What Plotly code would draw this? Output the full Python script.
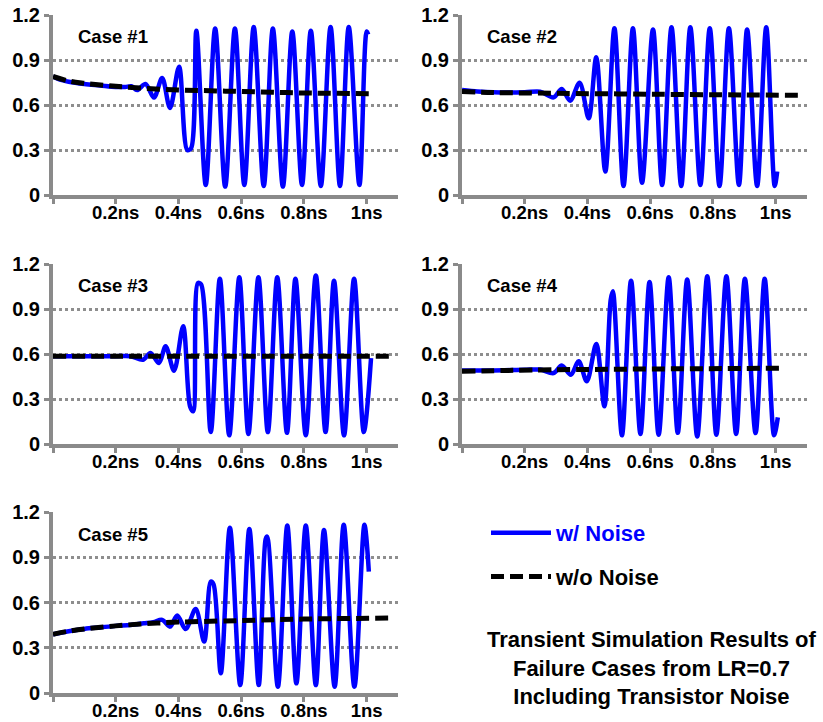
import plotly.graph_objects as go

# ---------------- data (time in ns, voltage in V) ----------------
case_names = ["Case #1", "Case #2", "Case #3", "Case #4", "Case #5"]

c1_noise_t = [0, 0.02, 0.05, 0.1, 0.15, 0.2, 0.23, 0.25, 0.268, 0.295, 0.322, 0.348, 0.373, 0.402, 0.428, 0.44,
              0.457, 0.487, 0.517, 0.549, 0.58, 0.61, 0.64, 0.672, 0.701, 0.733, 0.763, 0.794, 0.822, 0.854,
              0.885, 0.915, 0.943, 0.977, 1.0, 1.005]
c1_noise_v = [0.79, 0.77, 0.755, 0.74, 0.73, 0.72, 0.72, 0.725, 0.70, 0.74, 0.65, 0.78, 0.58, 0.855, 0.30, 0.31,
              1.095, 0.067, 1.11, 0.056, 1.11, 0.067, 1.12, 0.06, 1.11, 0.056, 1.09, 0.067, 1.095, 0.06,
              1.12, 0.06, 1.12, 0.067, 1.09, 1.07]
c1_clean_t = [0, 0.05, 0.1, 0.2, 0.3, 0.4, 0.5, 0.6, 0.7, 0.8, 0.9, 1.016]
c1_clean_v = [0.79, 0.76, 0.745, 0.725, 0.71, 0.70, 0.695, 0.69, 0.685, 0.68, 0.678, 0.675]

c2_noise_t = [0, 0.05, 0.1, 0.2, 0.249, 0.292, 0.318, 0.345, 0.375, 0.404, 0.428, 0.457, 0.486, 0.515, 0.545,
              0.574, 0.609, 0.638, 0.668, 0.699, 0.728, 0.76, 0.79, 0.821, 0.851, 0.883, 0.909, 0.941, 0.97,
              0.997, 1.005]
c2_noise_v = [0.70, 0.69, 0.685, 0.685, 0.689, 0.651, 0.707, 0.629, 0.749, 0.511, 0.918, 0.156, 1.111, 0.06, 1.111,
              0.082, 1.104, 0.067, 1.118, 0.06, 1.118, 0.067, 1.111, 0.06, 1.111, 0.067, 1.104, 0.06, 1.118,
              0.06, 0.156]
c2_clean_t = [0, 0.1, 0.3, 0.6, 0.9, 1.08]
c2_clean_v = [0.69, 0.683, 0.678, 0.672, 0.667, 0.665]

c3_noise_t = [0, 0.1, 0.2, 0.247, 0.287, 0.311, 0.338, 0.359, 0.386, 0.415, 0.437, 0.447, 0.462, 0.472, 0.503,
              0.532, 0.562, 0.594, 0.623, 0.655, 0.685, 0.715, 0.746, 0.773, 0.806, 0.838, 0.869, 0.896, 0.928,
              0.96, 0.991, 1.014]
c3_noise_v = [0.585, 0.585, 0.585, 0.585, 0.562, 0.607, 0.54, 0.651, 0.489, 0.785, 0.25, 0.218, 1.073, 1.065, 0.08,
              1.102, 0.058, 1.111, 0.067, 1.111, 0.08, 1.111, 0.075, 1.102, 0.058, 1.124, 0.08, 1.089, 0.058,
              1.102, 0.08, 0.573]
c3_clean_t = [0, 0.5, 1.09]
c3_clean_v = [0.585, 0.585, 0.585]

c4_noise_t = [0, 0.1, 0.2, 0.249, 0.292, 0.318, 0.347, 0.372, 0.398, 0.428, 0.454, 0.474, 0.481, 0.51, 0.539,
              0.569, 0.598, 0.627, 0.659, 0.688, 0.718, 0.75, 0.782, 0.811, 0.843, 0.874, 0.902, 0.936, 0.965,
              0.995, 1.007]
c4_noise_v = [0.49, 0.49, 0.495, 0.496, 0.473, 0.524, 0.462, 0.551, 0.418, 0.667, 0.251, 0.96, 1.018, 0.058, 1.089,
              0.067, 1.08, 0.062, 1.111, 0.075, 1.096, 0.05, 1.118, 0.062, 1.118, 0.067, 1.102, 0.073, 1.102,
              0.058, 0.178]
c4_clean_t = [0, 0.3, 0.6, 1.016]
c4_clean_v = [0.485, 0.495, 0.50, 0.505]

c5_noise_t = [0, 0.05, 0.1, 0.15, 0.2, 0.247, 0.289, 0.32, 0.348, 0.373, 0.396, 0.423, 0.455, 0.482, 0.503, 0.512,
              0.535, 0.564, 0.597, 0.626, 0.656, 0.678, 0.683, 0.717, 0.747, 0.776, 0.806, 0.838, 0.864, 0.898,
              0.927, 0.961, 0.993, 1.007]
c5_noise_v = [0.39, 0.41, 0.425, 0.435, 0.445, 0.451, 0.462, 0.47, 0.485, 0.44, 0.513, 0.424, 0.557, 0.341, 0.738,
              0.72, 0.131, 1.096, 0.053, 1.088, 0.053, 1.02, 1.037, 0.042, 1.11, 0.064, 1.11, 0.053, 1.08, 0.042,
              1.115, 0.042, 1.115, 0.805]
c5_clean_t = [0, 0.05, 0.1, 0.2, 0.3, 0.4, 0.6, 0.8, 1.08]
c5_clean_v = [0.39, 0.41, 0.425, 0.445, 0.46, 0.47, 0.48, 0.49, 0.497]

noise_t = [c1_noise_t, c2_noise_t, c3_noise_t, c4_noise_t, c5_noise_t]
noise_v = [c1_noise_v, c2_noise_v, c3_noise_v, c4_noise_v, c5_noise_v]
clean_t = [c1_clean_t, c2_clean_t, c3_clean_t, c4_clean_t, c5_clean_t]
clean_v = [c1_clean_v, c2_clean_v, c3_clean_v, c4_clean_v, c5_clean_v]

x_tickvals = [0, 0.2, 0.4, 0.6, 0.8, 1.0]
x_ticktext = ["", "0.2ns", "0.4ns", "0.6ns", "0.8ns", "1ns"]
y_tickvals = [0, 0.3, 0.6, 0.9, 1.2]
y_ticktext = ["0", "0.3", "0.6", "0.9", "1.2"]

legend_noise = "w/ Noise"
legend_clean = "w/o Noise"
caption = "Transient Simulation Results of<br>Failure Cases from LR=0.7<br>Including Transistor Noise"

# ---------------- layout geometry ----------------
W, H = 823, 722
panels_px = [  # (x0, x1, ytop, ybottom) in pixels
    (53, 398, 15, 195),
    (462, 807, 15, 195),
    (53, 398, 264, 444),
    (462, 807, 264, 444),
    (53, 398, 512, 693),
]

FONT = "Arial, 'Liberation Sans', sans-serif"
BLUE = "#0000FF"
GRID = "#8E8E8E"
AXIS = "#8A8A8A"

fig = go.Figure()
layout = dict(
    width=W, height=H, margin=dict(l=0, r=0, t=0, b=0, autoexpand=False),
    paper_bgcolor="white", plot_bgcolor="white",
    font=dict(family=FONT, size=18, color="black"),
    showlegend=True,
)
annotations = []

for i in range(5):
    n = i + 1
    xs = "x" if n == 1 else f"x{n}"
    ys = "y" if n == 1 else f"y{n}"
    fig.add_trace(go.Scatter(
        x=noise_t[i], y=noise_v[i], xaxis=xs, yaxis=ys, mode="lines",
        line=dict(color=BLUE, width=4.5, shape="spline", smoothing=0.9),
        name=f"<span style='color:{BLUE}'>{legend_noise}</span>",
        legendgroup="a", showlegend=(i == 0), hoverinfo="skip"))
    fig.add_trace(go.Scatter(
        x=clean_t[i], y=clean_v[i], xaxis=xs, yaxis=ys, mode="lines",
        line=dict(color="black", width=5, dash="13px,6px", shape="spline"),
        name=legend_clean, legendgroup="b", showlegend=(i == 0), hoverinfo="skip"))

    x0, x1, yt, yb = panels_px[i]
    xk = "xaxis" if n == 1 else f"xaxis{n}"
    yk = "yaxis" if n == 1 else f"yaxis{n}"
    layout[xk] = dict(
        domain=[x0 / W, x1 / W], range=[0, 1.1], anchor=ys, automargin=False,
        showline=True, linecolor=AXIS, linewidth=4,
        showgrid=False, zeroline=False,
        ticks="outside", ticklen=5, tickwidth=3, tickcolor=AXIS,
        tickvals=x_tickvals, ticktext=x_ticktext, ticklabelstandoff=-7,
        tickfont=dict(family=FONT, size=18.5, color="black", weight="bold"),
        fixedrange=True)
    layout[yk] = dict(
        domain=[1 - yb / H, 1 - yt / H], range=[0, 1.2], anchor=xs, automargin=False,
        showline=True, linecolor=AXIS, linewidth=4,
        showgrid=True, gridcolor=GRID, gridwidth=3, griddash="dot",
        zeroline=False,
        ticks="outside", ticklen=5, tickwidth=3, tickcolor=AXIS,
        tickvals=y_tickvals, ticktext=y_ticktext,
        tickfont=dict(family=FONT, size=20, color="black", weight="bold"),
        fixedrange=True)
    annotations.append(dict(
        text=case_names[i], xref=f"{xs} domain", yref=f"{ys} domain",
        x=23 / 345, y=0.878,
        xanchor="left", yanchor="middle", showarrow=False,
        font=dict(family=FONT, size=18.5, color="black", weight="bold")))

annotations.append(dict(
    text=caption, xref="paper", yref="paper", x=652 / W, y=1 - 668 / H,
    xanchor="center", yanchor="middle", showarrow=False, align="center",
    font=dict(family=FONT, size=22, color="black", weight="bold")))

layout["annotations"] = annotations
layout["legend"] = dict(
    x=486 / W, y=1 - 512 / H, xanchor="left", yanchor="top",
    bgcolor="rgba(0,0,0,0)", borderwidth=0,
    font=dict(family=FONT, size=22, color="black", weight="bold"),
    itemwidth=60, tracegroupgap=12, traceorder="grouped",
)
fig.update_layout(**layout)
fig.write_html("out.html")
